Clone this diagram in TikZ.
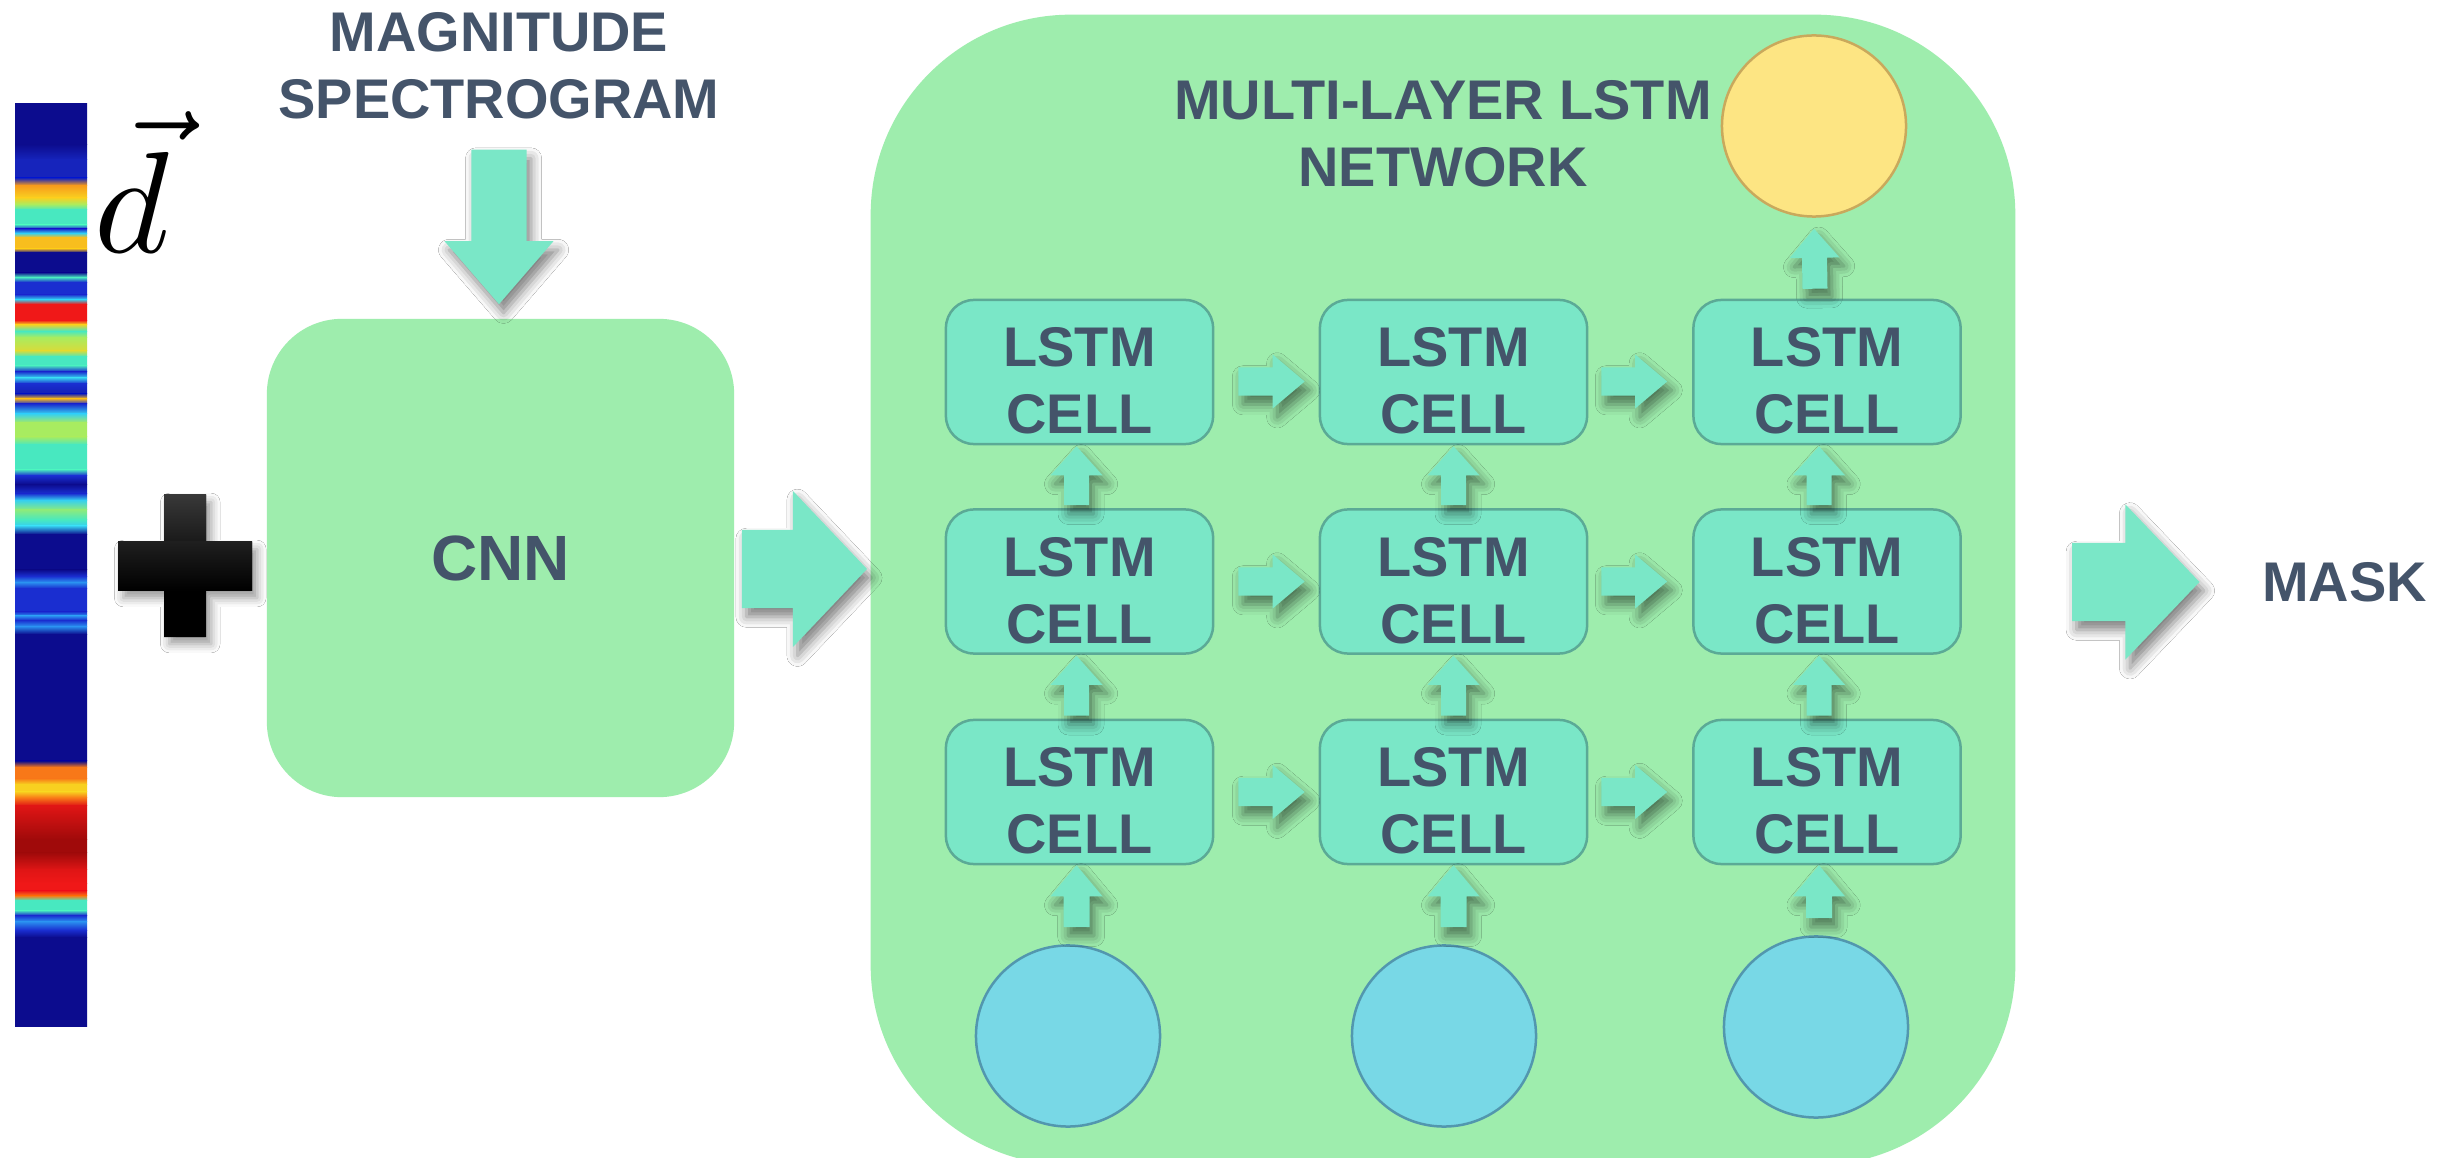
\documentclass[tikz,border=0pt]{standalone}
\usepackage{fontspec}
\setmainfont{Liberation Sans}
\usetikzlibrary{calc,shapes.geometric,shadows.blur}

\definecolor{boxgreen}{HTML}{9EEDAD}
\definecolor{mint}{HTML}{7AE7C7}
\definecolor{cellline}{HTML}{5BAA96}
\definecolor{ink}{HTML}{44546A}
\definecolor{sunfill}{HTML}{FDE583}
\definecolor{sunline}{HTML}{C9A95C}
\definecolor{skyfill}{HTML}{78D8E6}
\definecolor{skyline}{HTML}{5297AE}
% jet colour map of the feature column
\definecolor{jnavy}{HTML}{0C0C8E}
\definecolor{jblue}{HTML}{1A2ED0}
\definecolor{jazure}{HTML}{2A90F0}
\definecolor{jcyan}{HTML}{36D0F0}
\definecolor{jaqua}{HTML}{48E8C0}
\definecolor{jlime}{HTML}{A8EC60}
\definecolor{jyellow}{HTML}{F8D020}
\definecolor{jorange}{HTML}{F87818}
\definecolor{jred}{HTML}{F01818}
\definecolor{jdark}{HTML}{A00A0A}

% block arrow from #2 (tail) to #3 (tip):
% #4 shaft half width, #5 head half width, #6 head length
\newcommand\fatarrow[6][]{%
  \coordinate (fan) at ($(#3)!#6!(#2)$);
  \fill[#1] ($(#2)!#4!90:(#3)$) -- ($(fan)!#4!90:(#3)$) -- ($(fan)!#5!90:(#3)$) -- (#3)
    -- ($(fan)!#5!-90:(#3)$) -- ($(fan)!#4!-90:(#3)$) -- ($(#2)!#4!-90:(#3)$) -- cycle;}

\begin{document}
\begin{tikzpicture}[x=0.01cm, y=-0.01cm,
  lbl/.style={font=\fontsize{15.9}{19.1}\selectfont\bfseries, text=ink, align=center, inner sep=0pt},
  cellbox/.style={lbl, draw=cellline, line width=0.025cm, fill=mint, rounded corners=0.28cm,
                  minimum width=2.67cm, minimum height=1.44cm, text height=1.24cm},
  bigbox/.style={fill=boxgreen, inner sep=0pt},
  insig/.style={ellipse, draw=skyline, fill=skyfill, line width=0.025cm, minimum width=1.84cm, minimum height=1.81cm},
  outsig/.style={ellipse, draw=sunline, fill=sunfill, line width=0.025cm, minimum width=1.84cm, minimum height=1.81cm},
  fatfill/.style={fill=mint, blur shadow={shadow xshift=1.3pt, shadow yshift=-2.5pt,
                  shadow blur radius=3pt, shadow opacity=50}}]

\useasboundingbox[fill=white] (0,0) rectangle (2457,1158);

% feature column (jet colour map)
\begin{scope}[shift={(0,80)}, yscale=0.6124]
  \foreach \yy/\cc [remember=\yy as \py (initially 38), remember=\cc as \pc (initially jnavy)] in
   {105/jnavy, 130/jblue!70!jnavy, 160/jblue!70!jnavy, 172/jorange!60!jyellow, 192/jyellow,
    203/jlime, 212/jaqua, 236/jaqua, 243/jblue, 250/jcyan, 257/jyellow!80!jorange,
    275/jyellow!80!jorange, 282/jnavy, 314/jnavy, 322/jaqua, 330/jblue, 350/jblue, 358/jcyan,
    366/jred, 392/jred, 399/jyellow, 410/jaqua, 420/jlime, 442/jyellow!60!jlime, 452/jaqua,
    466/jaqua, 476/jblue, 486/jcyan, 496/jblue, 512/jblue!60!jnavy, 520/jyellow!70!jorange,
    529/jblue, 545/jcyan, 560/jlime, 582/jlime, 596/jaqua, 636/jaqua, 646/jblue, 660/jnavy,
    675/jblue, 686/jcyan, 702/jlime!70!jaqua, 718/jaqua, 728/jcyan, 742/jnavy, 800/jnavy,
    810/jblue, 820/jazure, 830/jblue, 868/jblue, 875/jazure, 882/jblue, 892/jazure, 905/jnavy,
    1112/jnavy, 1122/jorange, 1140/jorange, 1150/jyellow, 1162/jyellow, 1172/jorange,
    1185/jred!80!jdark, 1240/jdark, 1262/jdark, 1290/jred!80!jdark, 1312/jred, 1324/jred,
    1332/jorange, 1340/jaqua, 1356/jaqua, 1364/jblue, 1374/jazure, 1388/jblue, 1400/jnavy,
    1545/jnavy}
  { \shade[top color=\pc, bottom color=\cc] (15,\py) rectangle (87,\yy); }
\end{scope}

% vector symbol
\node[anchor=base west, inner sep=0pt, text=black] (dvec) at (94,253) {\scalebox{4.1}{$\vec{d}$}};

% plus sign
\fill[black, blur shadow={shadow xshift=1.5pt, shadow yshift=-2pt, shadow blur radius=2.5pt, shadow opacity=40}]
  (164,495) -- (206,495) -- (206,542) -- (252,542) -- (252,591) -- (206,591) -- (206,637)
  -- (164,637) -- (164,591) -- (118,591) -- (118,542) -- (164,542) -- cycle;
\shade[top color=black!78, bottom color=black!90] (164,495) rectangle (206,542);
\shade[top color=black!88, bottom color=black] (118,542) rectangle (252,591);

% input caption and CNN block
\node[lbl] (mag) at (499,65.5) {MAGNITUDE\\SPECTROGRAM};
\node[bigbox, rounded corners=0.75cm, minimum width=4.67cm, minimum height=4.78cm,
      font=\fontsize{18.2}{22}\selectfont\bfseries, text=ink] (cnn) at (500.5,558) {CNN};

% LSTM network container
\node[bigbox, rounded corners=2cm, minimum width=11.44cm, minimum height=11.5cm] (net) at (1443,590) {};
\node[lbl] (nettitle) at (1443,134) {MULTI-LAYER LSTM\\NETWORK};

% output label
\node[lbl] (mask) at (2344.5,582) {MASK};

% cells
\foreach \r/\yy in {1/372,2/581.5,3/792}
  \foreach \c/\xx in {1/1079.5,2/1453.5,3/1827}
    \node[cellbox] (c\r\c) at (\xx,\yy) {LSTM\\CELL};

% input and output units
\node[insig] (in1) at (1068,1036) {};
\node[insig] (in2) at (1444,1036) {};
\node[insig] (in3) at (1816,1027) {};
\node[outsig] (out) at (1814,126) {};

% big arrows
\coordinate (magtail) at ($(mag.south)+(0,30)$);
\coordinate (maghead) at ($(cnn.north)+(-1.5,-14)$);
\fatarrow[fatfill]{magtail}{maghead}{0.275cm}{0.545cm}{0.63cm}
\coordinate (cnntail) at ($(cnn.east)+(7,11)$);
\coordinate (cnnhead) at ($(net.west)+(-3,-21)$);
\fatarrow[fatfill]{cnntail}{cnnhead}{0.39cm}{0.78cm}{0.74cm}
\coordinate (nettail) at ($(net.east)+(56,-8)$);
\coordinate (nethead) at ($(mask.west)+(-62,0)$);
\fatarrow[fatfill]{nettail}{nethead}{0.39cm}{0.775cm}{0.74cm}

% recurrent (horizontal) links
\foreach \r/\dy in {1/9.5,2/0,3/0} {
  \coordinate (hat\r) at ($(c\r1.east)+(24,\dy)$);
  \coordinate (hah\r) at ($(c\r2.west)+(-14,\dy)$);
  \fatarrow[fatfill]{hat\r}{hah\r}{0.14cm}{0.27cm}{0.32cm}
  \coordinate (hbt\r) at ($(c\r2.east)+(13,\dy)$);
  \coordinate (hbh\r) at ($(c\r3.west)+(-25,\dy)$);
  \fatarrow[fatfill]{hbt\r}{hbh\r}{0.14cm}{0.27cm}{0.32cm}
}

% layer-to-layer (vertical) links
\foreach \c/\dx in {1/-3,2/0,3/-8} {
  \foreach \r/\rr in {1/2,2/3} {
    \coordinate (vt\r\c) at ($(c\rr\c.north)+(\dx,-3)$);
    \coordinate (vh\r\c) at ($(c\r\c.south)+(\dx,1)$);
    \fatarrow[fatfill]{vt\r\c}{vh\r\c}{0.125cm}{0.26cm}{0.29cm}
  }
  \coordinate (it\c) at ($(in\c.north -| c3\c.south)+(\dx,-17)$);
  \coordinate (ih\c) at ($(c3\c.south)+(\dx,0)$);
  \fatarrow[fatfill]{it\c}{ih\c}{0.13cm}{0.26cm}{0.31cm}
}
\coordinate (ot) at ($(c13.north)+(-12,-10)$);
\coordinate (oh) at ($(out.south)+(0,11)$);
\fatarrow[fatfill]{ot}{oh}{0.125cm}{0.25cm}{0.29cm}

\end{tikzpicture}
\end{document}
